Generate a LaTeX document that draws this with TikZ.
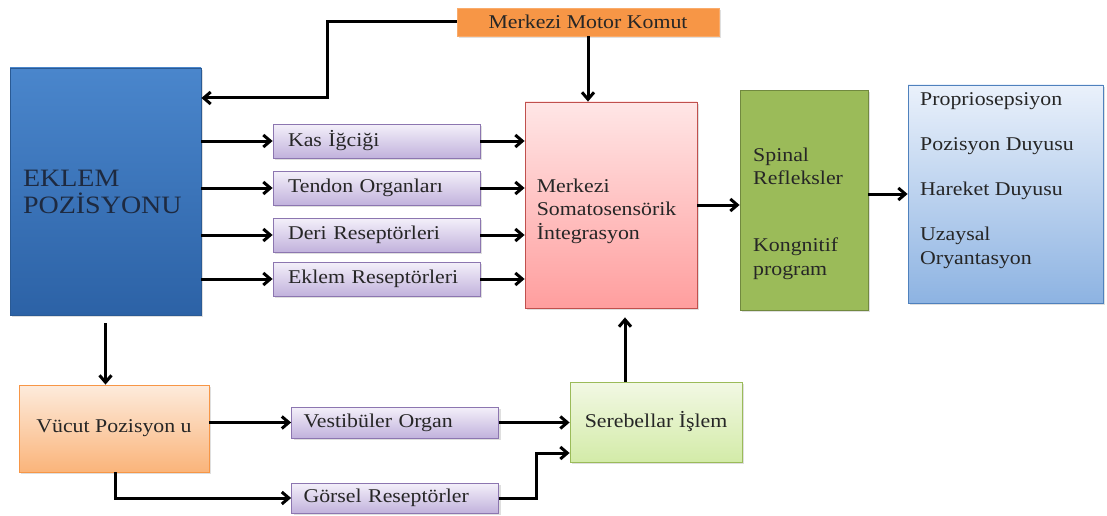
\documentclass[tikz,border=0pt]{standalone}
\usepackage{fontspec}
\setmainfont{Liberation Serif}[FakeStretch=1.12]
\usetikzlibrary{arrows.meta,shadows}
\definecolor{txt}{HTML}{262626}
\definecolor{ekltxt}{HTML}{1E2A40}
\definecolor{eklemtop}{HTML}{4A86CC}
\definecolor{eklembot}{HTML}{2C62A6}
\definecolor{eklemline}{HTML}{2A5A94}
\definecolor{motorfill}{HTML}{F79646}
\definecolor{rectop}{HTML}{F4F0FA}
\definecolor{recbot}{HTML}{C1B2DC}
\definecolor{recline}{HTML}{8C76B0}
\definecolor{integtop}{HTML}{FFE6E6}
\definecolor{integbot}{HTML}{FF9E9E}
\definecolor{integline}{HTML}{C0504D}
\definecolor{spinalfill}{HTML}{9BBB59}
\definecolor{spinalline}{HTML}{71893F}
\definecolor{duyutop}{HTML}{EAF1FB}
\definecolor{duyubot}{HTML}{8DB3E2}
\definecolor{duyuline}{HTML}{4F81BD}
\definecolor{vucuttop}{HTML}{FDEBDC}
\definecolor{vucutbot}{HTML}{FAB47A}
\definecolor{serebtop}{HTML}{F2F8E4}
\definecolor{serebbot}{HTML}{D3EBA8}

\begin{document}
\begin{tikzpicture}[x=1pt, y=-1pt,
    basebox/.style={draw, line width=0.8pt, inner sep=0pt, text=txt,
      font=\fontsize{19.5}{23.5}\selectfont,
      drop shadow={shadow xshift=2pt, shadow yshift=-2pt, opacity=0.25}},
    recbox/.style={basebox, top color=rectop, bottom color=recbot, draw=recline,
      minimum width=207pt, minimum height=34pt, inner xsep=15pt, text width=177pt, align=left},
    lbl/.style={inner sep=0pt, text=txt, align=left, font=\fontsize{19.5}{23.5}\selectfont},
    arr/.style={-{Straight Barb[length=7pt,width=12pt]}, line width=3pt}]
  \useasboundingbox (0,0) rectangle (1107,516);

  % boxes
  \node[basebox, fill=motorfill, draw=motorfill!80!white, minimum width=262pt, minimum height=28pt] (motor) at (588,22) {Merkezi Motor Komut};
  \node[basebox, top color=eklemtop, bottom color=eklembot, draw=eklemline, minimum width=191pt, minimum height=247pt,
        text width=165pt, inner xsep=13pt, align=left, text=ekltxt, font=\fontsize{25}{27}\selectfont] (eklem) at (105.5,191.5) {EKLEM\\POZİSYONU};
  \node[recbox] (kas) at (376.5,141) {Kas İğciği};
  \node[recbox] (tendon) at (376.5,188) {Tendon Organları};
  \node[recbox] (deri) at (376.5,235) {Deri Reseptörleri};
  \node[recbox] (eklemrec) at (376.5,279) {Eklem Reseptörleri};
  \node[basebox, top color=integtop, bottom color=integbot, draw=integline, minimum width=172pt, minimum height=206pt] (integ) at (611,205) {};
  \node[lbl] (integtxt) at ([xshift=12pt, yshift=-6pt]integ.west) [anchor=west] {Merkezi\\Somatosensörik\\İntegrasyon};
  \node[basebox, fill=spinalfill, draw=spinalline, minimum width=128pt, minimum height=220pt] (spinal) at (804,200) {};
  \node[lbl, anchor=west] (spinaltxt) at (753,166.5) {Spinal\\Refleksler};
  \node[lbl, anchor=west] (kogtxt) at (753,258.5) {Kongnitif\\program};
  \node[basebox, top color=duyutop, bottom color=duyubot, draw=duyuline, minimum width=195pt, minimum height=218pt] (duyu) at (1005.5,194) {};
  \node[lbl, anchor=north west] (duyutxt) at (920,92) {Propriosepsiyon\\[22pt]Pozisyon Duyusu\\[21pt]Hareket Duyusu\\[22pt]Uzaysal\\Oryantasyon};
  \node[basebox, top color=vucuttop, bottom color=vucutbot, draw=motorfill, minimum width=190pt, minimum height=87pt] (vucut) at (114,428.5) {Vücut Pozisyon u};
  \node[recbox, minimum height=31pt, inner xsep=12pt, text width=183pt] (vestib) at (395,422.5) {Vestibüler Organ};
  \node[recbox, minimum height=30pt, inner xsep=12pt, text width=183pt] (gorsel) at (395,498) {Görsel Reseptörler};
  \node[basebox, top color=serebtop, bottom color=serebbot, draw=spinalfill, minimum width=172pt, minimum height=80pt] (sereb) at (656,422) {Serebellar İşlem};

  % connectors
  \coordinate (motorbend) at (327,98);
  \draw[arr] (motor.west) -| (motorbend) -- (eklem.east |- motorbend);
  \draw[arr] (motor.south) -- (motor.south |- integ.north);
  \foreach \r in {kas,tendon,deri,eklemrec}{
    \draw[arr] (eklem.east |- \r.west) -- (\r.west);
    \draw[arr] (\r.east) -- (\r.east -| integ.west);
  }
  \draw[arr] (integ.east) -- (integ.east -| spinal.west);
  \draw[arr] (spinal.east |- duyu.west) -- (duyu.west);
  \draw[arr, shorten <=8pt] (eklem.south) -- (eklem.south |- vucut.north);
  \draw[arr] (vucut.east |- vestib.west) -- (vestib.west);
  \draw[arr] (vestib.east) -- (vestib.east -| sereb.west);
  \draw[arr] ([xshift=1pt]vucut.south) |- (gorsel.west);
  \coordinate (gorselbend) at (536,453);
  \draw[arr] (gorsel.east) -| (gorselbend) -- (sereb.west |- gorselbend);
  \draw[arr, shorten >=9pt] ([xshift=-31pt]sereb.north) -- ([xshift=-31pt]sereb.north |- integ.south);
\end{tikzpicture}
\end{document}
